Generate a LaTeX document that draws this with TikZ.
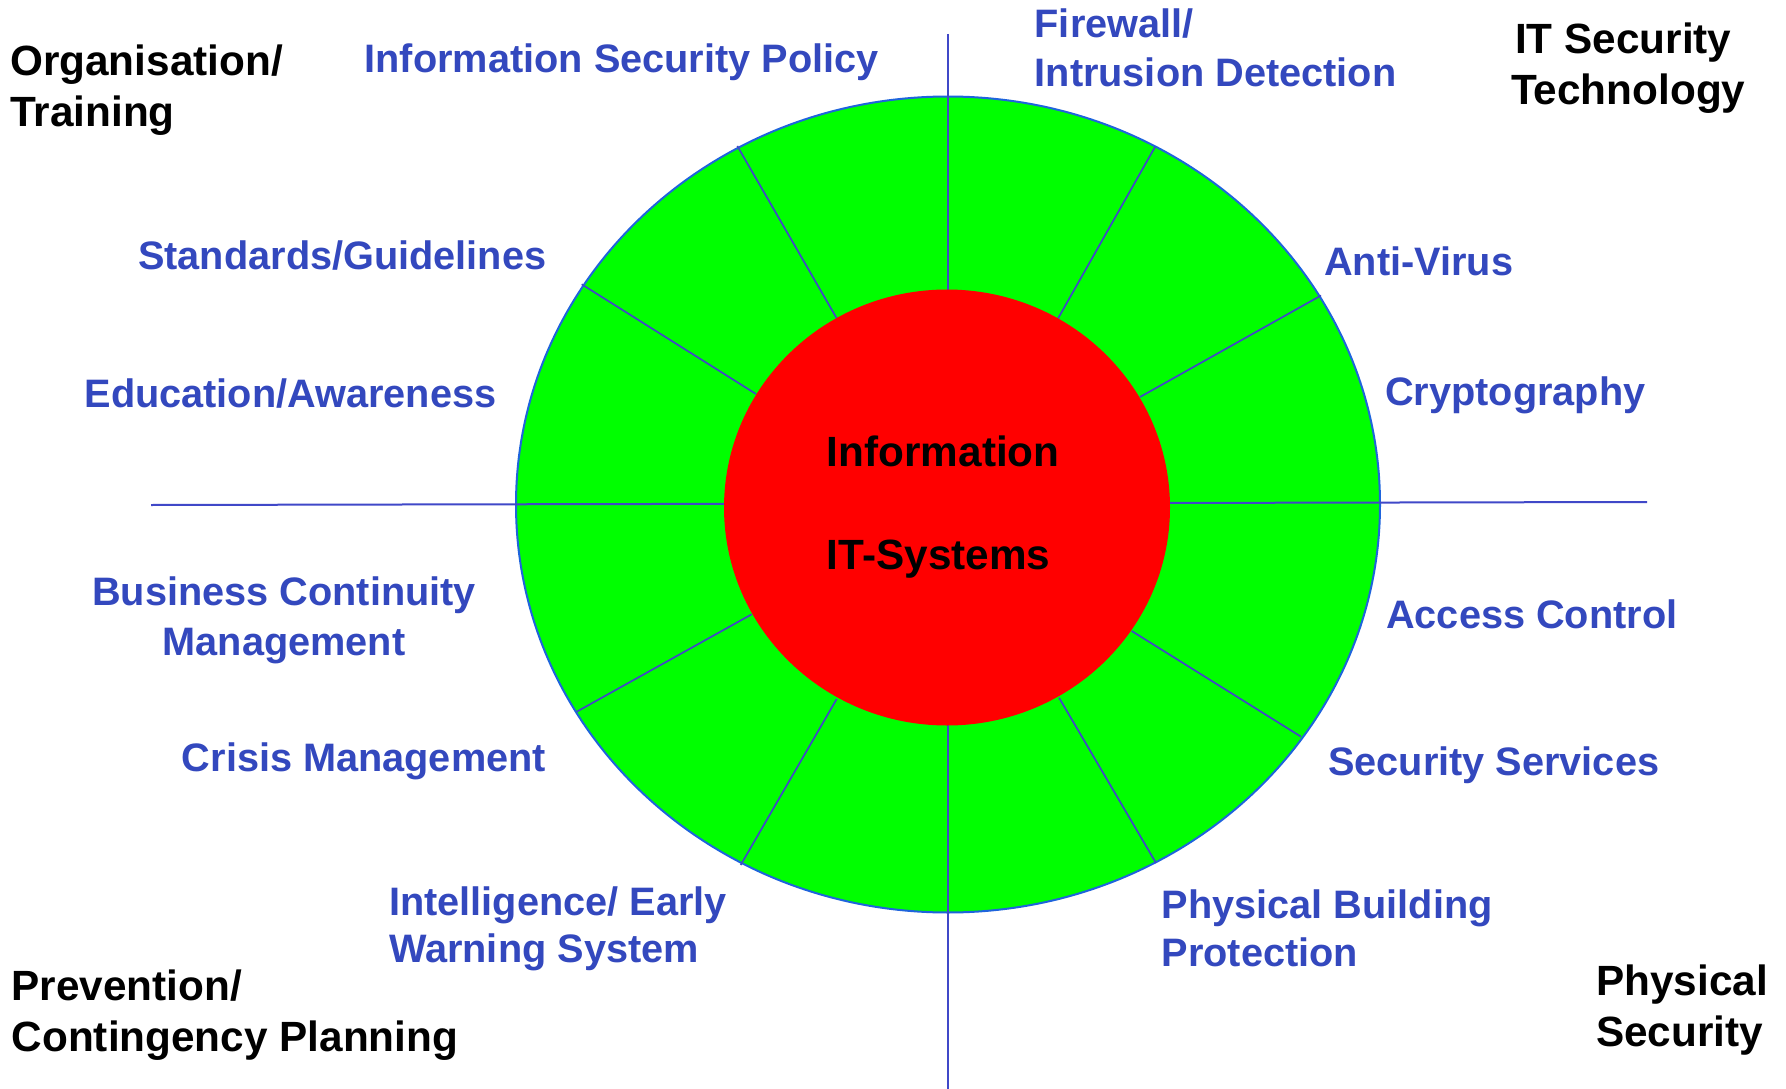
\documentclass[tikz,border=0pt]{standalone}
\usepackage{fontspec}
\setmainfont{Liberation Sans}
\definecolor{lblue}{RGB}{51,72,190}
\definecolor{spokeblue}{RGB}{64,72,200}
\definecolor{rimblue}{RGB}{30,100,220}
\definecolor{ggreen}{RGB}{0,255,0}
\definecolor{rred}{RGB}{255,0,0}
\begin{document}
\begin{tikzpicture}[x=1pt,y=-1pt,
  bluetxt/.style={anchor=base west, inner sep=0pt, text=lblue, font=\fontsize{39.7}{47}\selectfont\bfseries},
  blacktxt/.style={anchor=base west, inner sep=0pt, text=black, font=\fontsize{42.3}{50}\selectfont\bfseries},
  spokeline/.style={draw=spokeblue, line width=1.7pt},
  axisline/.style={draw=spokeblue, line width=2pt}]
\useasboundingbox (0,0) rectangle (1786,1089);
\fill[white] (0,0) rectangle (1786,1089);
% outer ring
\path[fill=ggreen, draw=rimblue, line width=2pt] (948,504.5) ellipse [x radius=432pt, y radius=408pt];
% spokes
\draw[spokeline] (737.3,146) -- (836.7,318.3);
\draw[spokeline] (581.7,284.3) -- (756,394);
\draw[spokeline] (576.7,711.7) -- (751.7,614.3);
\draw[spokeline] (740.7,865) -- (836.7,699);
\draw[spokeline] (1155,147) -- (1058,318.5);
\draw[spokeline] (1321,295.5) -- (1140,397);
\draw[spokeline] (1301,736.7) -- (1131.7,631);
\draw[spokeline] (1156,863) -- (1059,697.7);
% axes
\coordinate (hl) at (151,505);
\coordinate (hr) at (1647,502);
\coordinate (vt) at (948,34);
\coordinate (vb) at (948,1089);
\draw[axisline] (hl) -- (hr);
\draw[spokeline] (vt) -- (vb);
% inner core
\fill[rred] (947,507.5) ellipse [x radius=223pt, y radius=218pt];
% centre text
\node[blacktxt] (info) at (826.7,466.7) {Information};
\node[blacktxt] (itsys) at (826.7,569) {IT-Systems};
% quadrant titles
\node[blacktxt] (org1) at (10,76) {Organisation/};
\node[blacktxt] (org2) at (10,127) {Training};
\node[blacktxt] (its1) at (1515,54) {IT Security};
\node[blacktxt] (its2) at (1511,105) {Technology};
\node[blacktxt] (prev1) at (11.5,1000.7) {Prevention/};
\node[blacktxt] (prev2) at (11.5,1051.7) {Contingency Planning};
\node[blacktxt] (phys1) at (1596,995) {Physical};
\node[blacktxt] (phys2) at (1596,1046) {Security};
% sector labels
\node[bluetxt] (isp) at (364.5,73) {Information Security Policy};
\node[bluetxt] (fw1) at (1034.5,38) {Firewall/};
\node[bluetxt] (fw2) at (1034.5,87) {Intrusion Detection};
\node[bluetxt] (std) at (138,269) {Standards/Guidelines};
\node[bluetxt] (av) at (1324,275) {Anti-Virus};
\node[bluetxt] (edu) at (84.4,407) {Education/Awareness};
\node[bluetxt] (cry) at (1385,405) {Cryptography};
\node[bluetxt, anchor=base] (bcm1) at (284,605) {Business Continuity};
\node[bluetxt, anchor=base] (bcm2) at (284,655) {Management};
\node[bluetxt] (acc) at (1386,628) {Access Control};
\node[bluetxt] (cri) at (181.7,771.7) {Crisis Management};
\node[bluetxt] (sec) at (1328,775) {Security Services};
\node[bluetxt] (int1) at (389,915) {Intelligence/ Early};
\node[bluetxt] (int2) at (389,962.7) {Warning System};
\node[bluetxt] (pbp1) at (1161.6,918) {Physical Building};
\node[bluetxt] (pbp2) at (1161.6,966.7) {Protection};
\end{tikzpicture}
\end{document}
